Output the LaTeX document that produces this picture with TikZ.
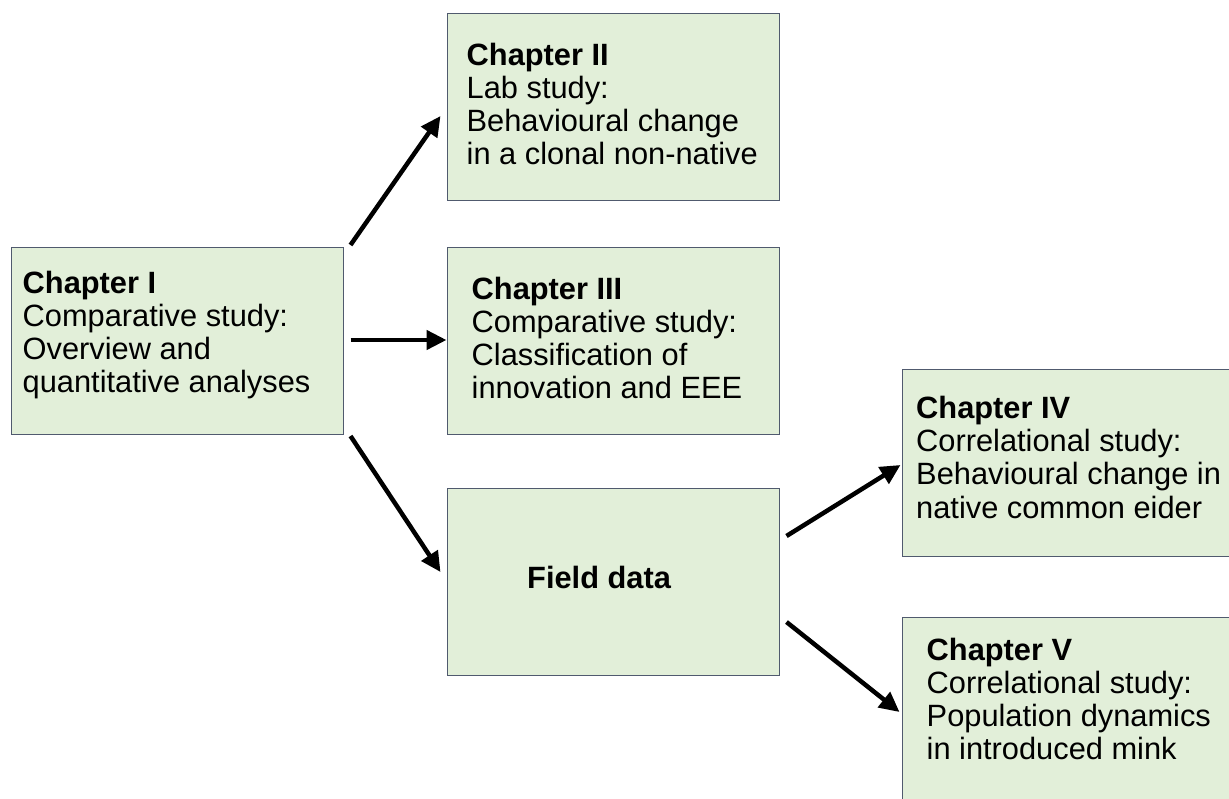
\documentclass[tikz,border=0pt]{standalone}
\usepackage{fontspec}
\setmainfont{Liberation Sans}
\usetikzlibrary{arrows.meta,calc}
\definecolor{boxfill}{HTML}{E2EFD9}
\definecolor{boxline}{RGB}{80,90,110}
\tikzset{
  box/.style={draw=boxline, fill=boxfill, line width=1pt, minimum width=332pt, minimum height=187pt, inner sep=0pt},
  txt/.style={anchor=base west, inner sep=0pt, font=\fontsize{30.8pt}{33.2pt}\selectfont},
  arr/.style={line width=4.5pt, -{Triangle[length=20pt,width=19pt]}}
}
\begin{document}
\begin{tikzpicture}[x=1pt,y=-1pt]
\useasboundingbox (0,0) rectangle (1229,798);
\clip (0,0) rectangle (1229,798);
\node[box] (b1) at (177,341) {};
\node[box] (b2) at (613,106.5) {};
\node[box] (b3) at (613,341) {};
\node[box] (fd) at (613,581.5) {};
\node[box] (b4) at (1068,463) {};
\node[box] (b5) at (1068,710.5) {};
\node[txt] (t1) at (22.5,293) {\parbox[t]{340pt}{\textbf{Chapter I}\\Comparative study:\\Overview and\\quantitative analyses}};
\node[txt] (t2) at (466.5,65) {\parbox[t]{340pt}{\textbf{Chapter II}\\Lab study:\\Behavioural change\\in a clonal non-native}};
\node[txt] (t3) at (471.5,299) {\parbox[t]{340pt}{\textbf{Chapter III}\\Comparative study:\\Classification of\\innovation and EEE}};
\node[txt] (tf) at (527,588) {\textbf{Field data}};
\node[txt] (t4) at (916,418.5) {\parbox[t]{340pt}{\textbf{Chapter IV}\\Correlational study:\\Behavioural change in\\native common eider}};
\node[txt] (t5) at (926.5,660) {\parbox[t]{340pt}{\textbf{Chapter V}\\Correlational study:\\Population dynamics\\in introduced mink}};
\draw[arr] ($(b1.north east)+(7,-2)$) -- ($(b2.west)+(-6,9.5)$);
\draw[arr] ($(b1.east)+(7,-1)$) -- ($(b3.west)+(0,-1)$);
\draw[arr] ($(b1.south east)+(7,1)$) -- ($(fd.west)+(-6,-9.5)$);
\draw[arr] ($(fd.east)+(7,-45.5)$) -- ($(b4.west)+(-1,2)$);
\draw[arr] ($(fd.east)+(7,40.5)$) -- ($(b5.west)+(-2,1.5)$);
\end{tikzpicture}
\end{document}
